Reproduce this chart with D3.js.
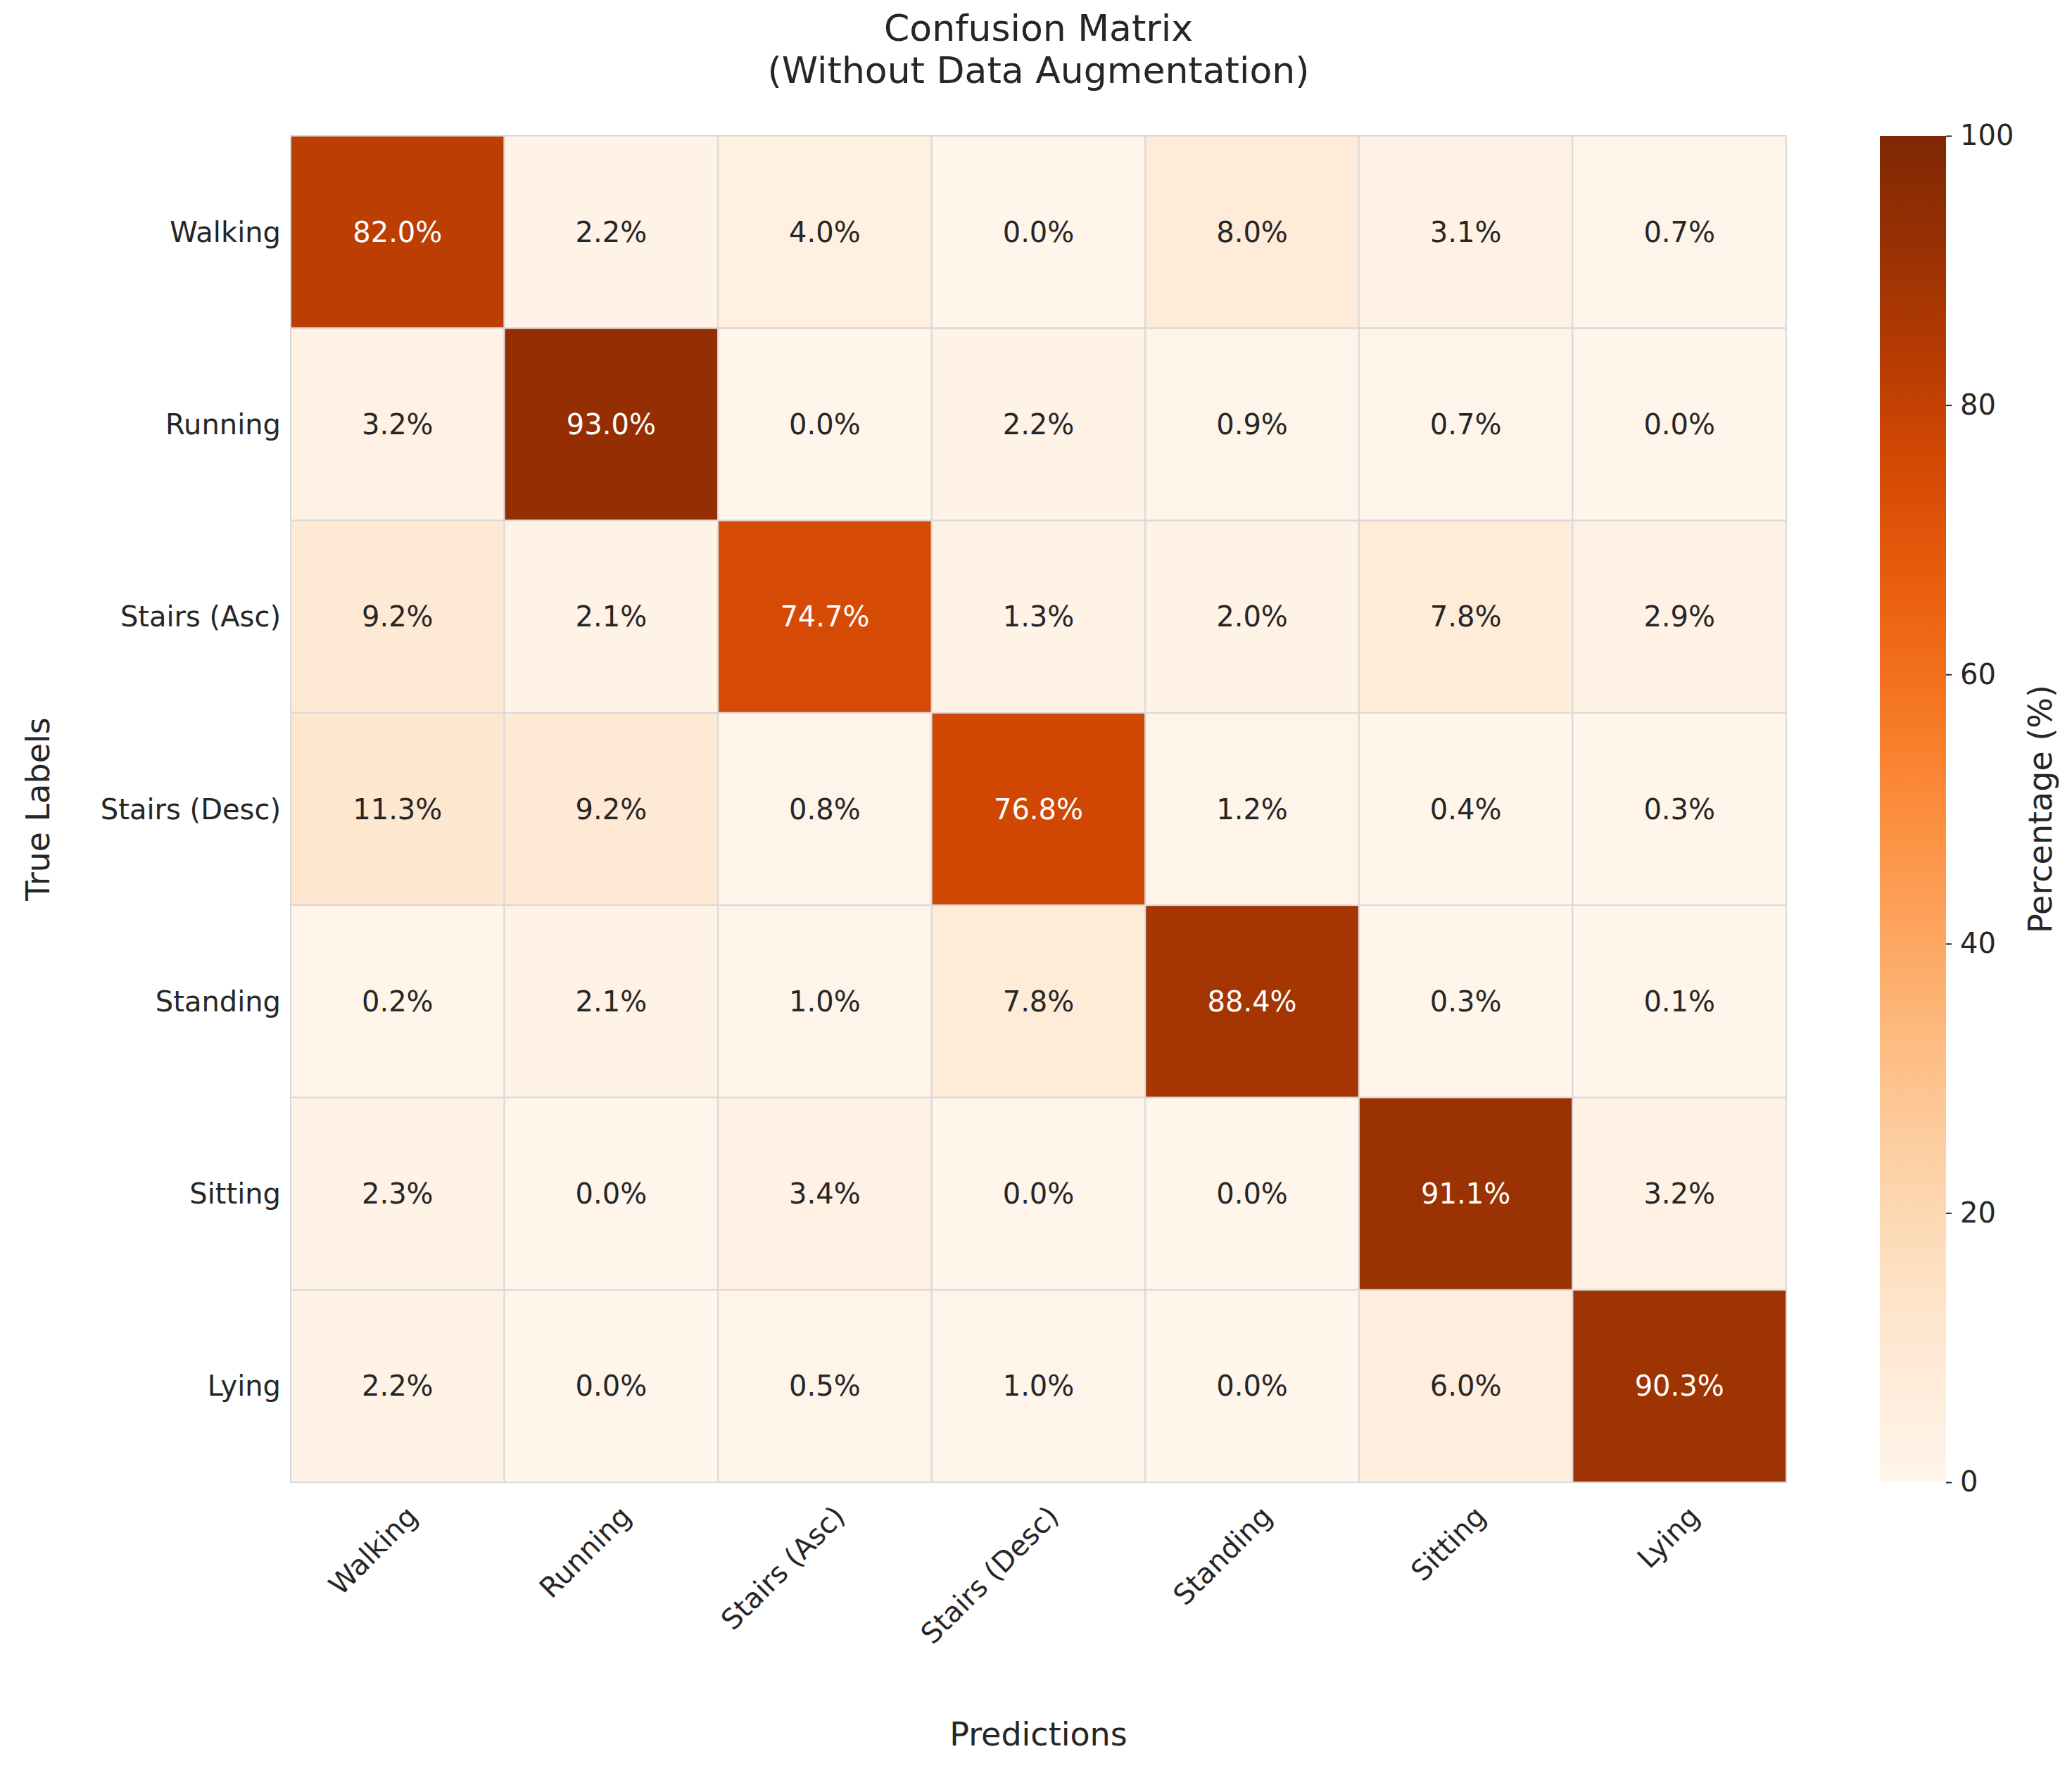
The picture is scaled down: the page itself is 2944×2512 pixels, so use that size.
<!DOCTYPE html>
<html>
<head>
<meta charset="utf-8">
<script src="https://cdn.jsdelivr.net/npm/d3@7"></script>
<style>
  body { margin: 0; background: #fff; }
  text { font-family: "DejaVu Sans", sans-serif; fill: #262626; }
</style>
</head>
<body>
<svg id="chart" width="2944" height="2512"></svg>
<script>
const labels = ['Walking', 'Running', 'Stairs (Asc)', 'Stairs (Desc)', 'Standing', 'Sitting', 'Lying'];
// rows = true labels, cols = predictions (%)
const matrix = [
  [82.0, 2.2, 4.0, 0.0, 8.0, 3.1, 0.7],
  [3.2, 93.0, 0.0, 2.2, 0.9, 0.7, 0.0],
  [9.2, 2.1, 74.7, 1.3, 2.0, 7.8, 2.9],
  [11.3, 9.2, 0.8, 76.8, 1.2, 0.4, 0.3],
  [0.2, 2.1, 1.0, 7.8, 88.4, 0.3, 0.1],
  [2.3, 0.0, 3.4, 0.0, 0.0, 91.1, 3.2],
  [2.2, 0.0, 0.5, 1.0, 0.0, 6.0, 90.3]
];
const cbarTicks = [0, 20, 40, 60, 80, 100];

const svg = d3.select('#chart');
const mLeft = 413, mRight = 2538, mTop = 193, mBottom = 2106;

const x = d3.scaleBand().domain(labels).range([mLeft, mRight]);
const y = d3.scaleBand().domain(labels).range([mTop, mBottom]);
const color = d3.scaleSequential(d3.interpolateOranges).domain([0, 100]);

const cells = [];
matrix.forEach((row, i) => row.forEach((v, j) => cells.push({ r: labels[i], c: labels[j], v })));

svg.append('g').selectAll('rect').data(cells).join('rect')
  .attr('x', d => x(d.c)).attr('y', d => y(d.r))
  .attr('width', x.bandwidth()).attr('height', y.bandwidth())
  .attr('fill', d => color(d.v))
  .attr('stroke', '#d9d9d9').attr('stroke-width', 2);

svg.append('g').selectAll('text').data(cells).join('text')
  .attr('x', d => x(d.c) + x.bandwidth() / 2)
  .attr('y', d => y(d.r) + y.bandwidth() / 2)
  .attr('text-anchor', 'middle').attr('dominant-baseline', 'central')
  .style('font-size', '40px')
  .style('fill', d => d.v > 50 ? '#ffffff' : '#262626')
  .text(d => d.v.toFixed(1) + '%');

// y tick labels
svg.append('g').selectAll('text').data(labels).join('text')
  .attr('x', mLeft - 14).attr('y', d => y(d) + y.bandwidth() / 2)
  .attr('text-anchor', 'end').attr('dominant-baseline', 'central')
  .style('font-size', '40px').text(d => d);

// x tick labels rotated 45
svg.append('g').selectAll('text').data(labels).join('text')
  .attr('transform', d => `translate(${x(d) + x.bandwidth() / 2 + 10},${mBottom + 30}) rotate(-45)`)
  .attr('text-anchor', 'end').attr('dominant-baseline', 'hanging')
  .style('font-size', '40px').text(d => d);

// axis titles
svg.append('text').attr('x', (mLeft + mRight) / 2).attr('y', 2480)
  .attr('text-anchor', 'middle').style('font-size', '46px').text('Predictions');
svg.append('text').attr('transform', `translate(${70},${(mTop + mBottom) / 2}) rotate(-90)`)
  .attr('text-anchor', 'middle').style('font-size', '46px').text('True Labels');

// title
svg.append('text').attr('x', (mLeft + mRight) / 2).attr('y', 58)
  .attr('text-anchor', 'middle').style('font-size', '52px').text('Confusion Matrix');
svg.append('text').attr('x', (mLeft + mRight) / 2).attr('y', 118)
  .attr('text-anchor', 'middle').style('font-size', '52px').text('(Without Data Augmentation)');

// colorbar
const cbX = 2671, cbW = 94;
const cy = d3.scaleLinear().domain([0, 100]).range([mBottom, mTop]);
const defs = svg.append('defs');
const grad = defs.append('linearGradient').attr('id', 'cbar')
  .attr('x1', 0).attr('y1', 1).attr('x2', 0).attr('y2', 0);
d3.range(0, 101, 5).forEach(v => grad.append('stop').attr('offset', v / 100 + '').attr('stop-color', color(v)));
svg.append('rect').attr('x', cbX).attr('y', mTop).attr('width', cbW).attr('height', mBottom - mTop)
  .attr('fill', 'url(#cbar)');
const cAxis = svg.append('g').attr('transform', `translate(${cbX + cbW},0)`)
  .call(d3.axisRight(cy).tickValues(cbarTicks).tickSize(8).tickPadding(12));
cAxis.select('.domain').remove();
cAxis.selectAll('text').style('font-size', '40px').style('fill', '#262626').style('font-family', '"DejaVu Sans", sans-serif');
cAxis.selectAll('line').attr('stroke', '#262626').attr('stroke-width', 2);
svg.append('text').attr('transform', `translate(${2915},${(mTop + mBottom) / 2}) rotate(-90)`)
  .attr('text-anchor', 'middle').style('font-size', '46px').text('Percentage (%)');
</script>
</body>
</html>
